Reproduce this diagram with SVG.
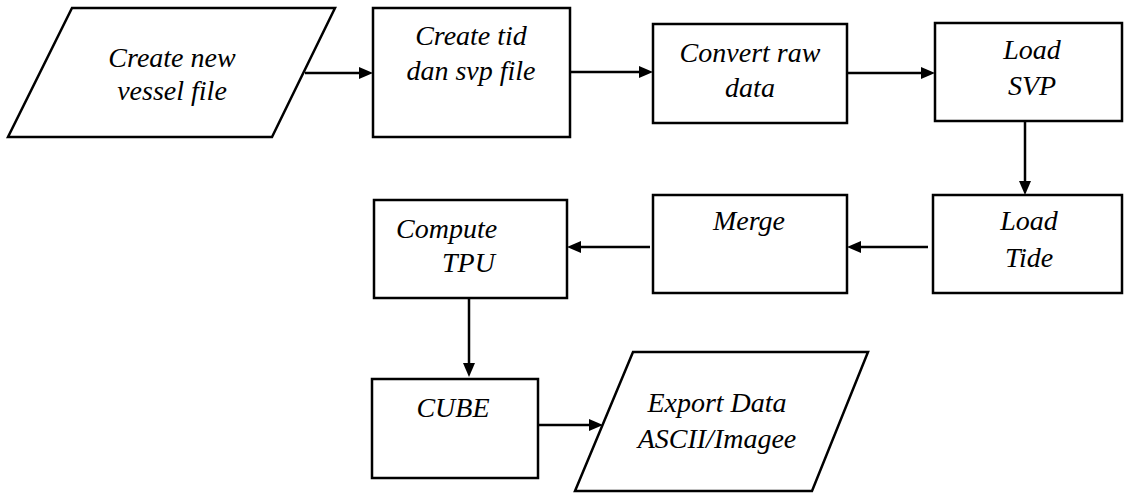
<svg xmlns="http://www.w3.org/2000/svg" width="1126" height="493" viewBox="0 0 1126 493">
<style>
.s{fill:#fff;stroke:#000;stroke-width:2.5}
.l{fill:none;stroke:#000;stroke-width:2.5}
.h{fill:#000;stroke:none}
</style>
<rect width="1126" height="493" fill="#fff"/>
<g id="connectors">
<line class="l" x1="305" y1="73" x2="360" y2="73"/>
<polygon class="h" points="359,67 373,73 359,79"/>
<line class="l" x1="570" y1="72" x2="640" y2="72"/>
<polygon class="h" points="639,66 653,72 639,78"/>
<line class="l" x1="847" y1="73" x2="922" y2="73"/>
<polygon class="h" points="921,67 935,73 921,79"/>
<line class="l" x1="1025" y1="121" x2="1025" y2="182"/>
<polygon class="h" points="1019,181 1025,195 1031,181"/>
<line class="l" x1="928" y1="247" x2="860" y2="247"/>
<polygon class="h" points="861,241 847,247 861,253"/>
<line class="l" x1="650" y1="247" x2="580" y2="247"/>
<polygon class="h" points="581,241 567,247 581,253"/>
<line class="l" x1="469" y1="298" x2="469" y2="364"/>
<polygon class="h" points="463,363 469,377 475,363"/>
<line class="l" x1="538" y1="425" x2="590" y2="425"/>
<polygon class="h" points="589,419 603,425 589,431"/>
</g>
<g id="n1">
<polygon class="s" points="72,8 335,8 272,137 8,137"/>
<text text-anchor="middle" x="172" y="67" style="font-family:'Times New Roman','Liberation Serif',serif;font-style:italic;font-size:28px">Create new</text>
<text text-anchor="middle" x="172" y="100" style="font-family:'Times New Roman','Liberation Serif',serif;font-style:italic;font-size:28px">vessel file</text>
</g>
<g id="n2">
<rect class="s" x="373" y="8" width="197" height="129"/>
<text text-anchor="middle" x="471" y="45" style="font-family:'Times New Roman','Liberation Serif',serif;font-style:italic;font-size:28px">Create tid</text>
<text text-anchor="middle" x="471" y="80" style="font-family:'Times New Roman','Liberation Serif',serif;font-style:italic;font-size:28px">dan svp file</text>
</g>
<g id="n3">
<rect class="s" x="653" y="24" width="194" height="99"/>
<text text-anchor="middle" x="750" y="62" style="font-family:'Times New Roman','Liberation Serif',serif;font-style:italic;font-size:28px">Convert raw</text>
<text text-anchor="middle" x="750" y="97" style="font-family:'Times New Roman','Liberation Serif',serif;font-style:italic;font-size:28px">data</text>
</g>
<g id="n4">
<rect class="s" x="935" y="23" width="187" height="98"/>
<text text-anchor="middle" x="1032" y="59" style="font-family:'Times New Roman','Liberation Serif',serif;font-style:italic;font-size:28px">Load</text>
<text text-anchor="middle" x="1032" y="95" style="font-family:'Times New Roman','Liberation Serif',serif;font-style:italic;font-size:28px">SVP</text>
</g>
<g id="n5">
<rect class="s" x="933" y="195" width="189" height="98"/>
<text text-anchor="middle" x="1029" y="230" style="font-family:'Times New Roman','Liberation Serif',serif;font-style:italic;font-size:28px">Load</text>
<text text-anchor="middle" x="1029" y="267" style="font-family:'Times New Roman','Liberation Serif',serif;font-style:italic;font-size:28px">Tide</text>
</g>
<g id="n6">
<rect class="s" x="653" y="195" width="194" height="98"/>
<text text-anchor="middle" x="749" y="230" style="font-family:'Times New Roman','Liberation Serif',serif;font-style:italic;font-size:28px">Merge</text>
</g>
<g id="n7">
<rect class="s" x="374" y="200" width="193" height="98"/>
<text x="396" y="238" style="font-family:'Times New Roman','Liberation Serif',serif;font-style:italic;font-size:28px">Compute</text>
<text x="442" y="272" style="font-family:'Times New Roman','Liberation Serif',serif;font-style:italic;font-size:28px">TPU</text>
</g>
<g id="n8">
<rect class="s" x="372" y="379" width="166" height="99"/>
<text text-anchor="middle" x="453" y="417" style="font-family:'Times New Roman','Liberation Serif',serif;font-style:italic;font-size:28px">CUBE</text>
</g>
<g id="n9">
<polygon class="s" points="633,352 868,352 812,491 575,491"/>
<text text-anchor="middle" x="717" y="412" style="font-family:'Times New Roman','Liberation Serif',serif;font-style:italic;font-size:28px">Export Data</text>
<text text-anchor="middle" x="717" y="448" style="font-family:'Times New Roman','Liberation Serif',serif;font-style:italic;font-size:28px">ASCII/Imagee</text>
</g>
</svg>
